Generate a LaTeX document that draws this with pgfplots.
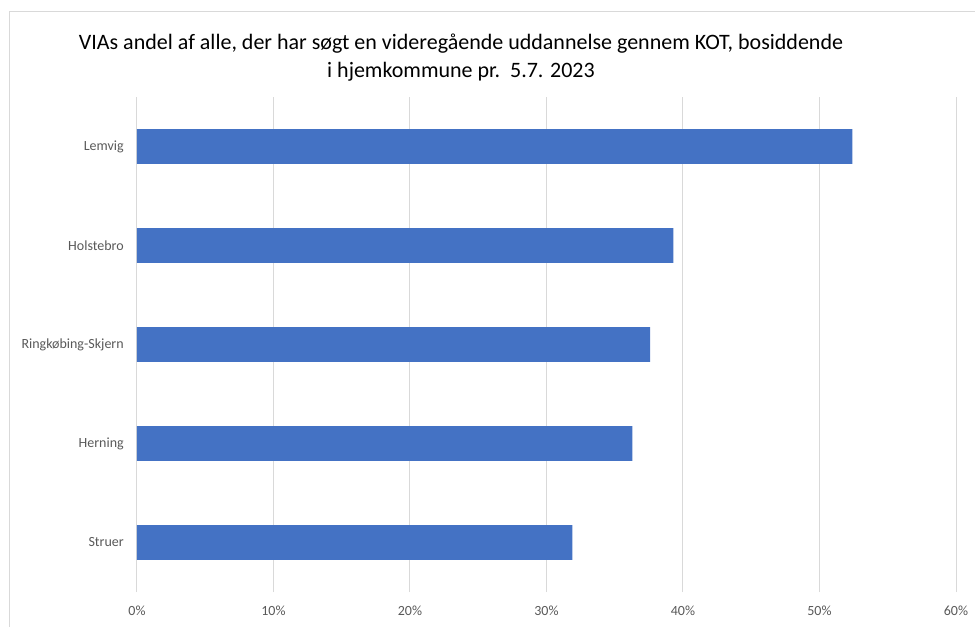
\documentclass[border=0pt]{standalone}
\usepackage{fontspec}
\setmainfont{Carlito}
\usepackage{pgfplots}
\pgfplotsset{compat=1.18}
\definecolor{barblue}{HTML}{4472C4}
\definecolor{gridgray}{HTML}{D9D9D9}
\definecolor{labelgray}{HTML}{595959}

\begin{document}
\begin{tikzpicture}
% page is 975x626 px at 0.75pt per px, axis origin at (137px, 592px)
\path[use as bounding box] (-102.75pt,-25.5pt) rectangle (628.5pt,444pt);
\draw[gridgray, line width=0.75pt] (700pt,435pt) -- (-95.25pt,435pt) -- (-95.25pt,-60pt);
\begin{axis}[
    at={(0pt,0pt)}, anchor=south west,
    scale only axis,
    width=614.25pt, height=371.25pt,
    xbar, bar width=0.35,
    xmin=0, xmax=60, ymin=-0.5, ymax=4.5,
    axis line style={draw=none},
    major tick length=0pt,
    xmajorgrids,
    grid style={gridgray, line width=0.75pt},
    xtick={0,10,...,60},
    xticklabels={0\%,10\%,20\%,30\%,40\%,50\%,60\%},
    ytick={0,1,2,3,4},
    yticklabels={Struer,Herning,Ringkøbing-Skjern,Holstebro,Lemvig},
    ticklabel style={font=\fontsize{10.5}{12}\selectfont, text=labelgray},
    xticklabel style={inner sep=0pt, yshift=-10pt},
    yticklabel style={inner sep=0pt, xshift=-9.75pt},
]
\addplot[fill=barblue, draw=none] coordinates {
    (31.9,0) (36.3,1) (37.6,2) (39.3,3) (52.4,4)
};
\end{axis}
\node[align=center, font=\fontsize{16.5}{21}\selectfont] at (243pt,400.5pt)
    {VIAs andel af alle, der har søgt en videregående uddannelse gennem KOT, bosiddende\\
     i hjemkommune pr.\ \ 5.7. 2023};
\end{tikzpicture}
\end{document}
